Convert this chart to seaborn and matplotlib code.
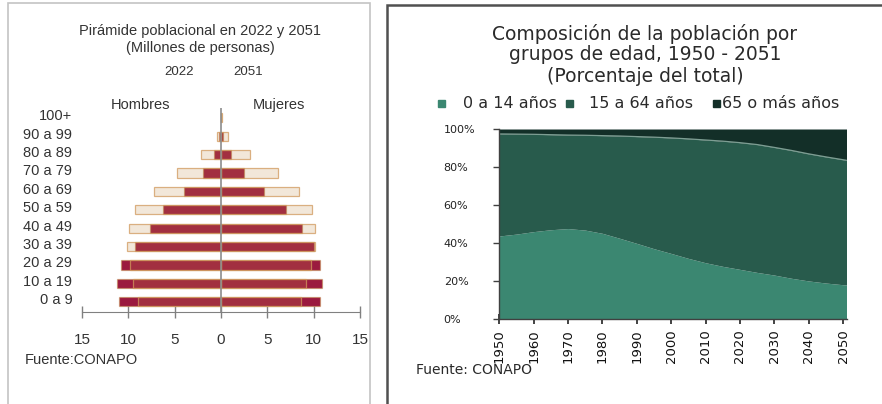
import matplotlib
matplotlib.use("Agg")
import matplotlib.pyplot as plt
import matplotlib.transforms as mtransforms
from matplotlib.patches import Rectangle
import seaborn as sns

# ---------------- datos: pirámide (millones de personas) ----------------
grupos_edad = ["0 a 9", "10 a 19", "20 a 29", "30 a 39", "40 a 49", "50 a 59",
               "60 a 69", "70 a 79", "80 a 89", "90 a 99", "100+"]
hombres_2022 = [10.98, 11.23, 10.76, 9.33, 7.68, 6.21, 4.02, 1.97, 0.72, 0.20, 0.02]
mujeres_2022 = [10.69, 10.91, 10.73, 10.05, 8.79, 7.00, 4.66, 2.48, 1.04, 0.25, 0.03]
hombres_2051 = [8.93, 9.54, 9.87, 10.12, 9.94, 9.29, 7.18, 4.77, 2.19, 0.47, 0.05]
mujeres_2051 = [8.61, 9.22, 9.69, 10.10, 10.12, 9.87, 8.43, 6.17, 3.12, 0.72, 0.10]
ticks_pir = [-15, -10, -5, 0, 5, 10, 15]

# ---------------- datos: composición por edad (% del total) ----------------
anios = [1950, 1955, 1960, 1965, 1970, 1975, 1980, 1985, 1990, 1995, 2000,
         2005, 2010, 2015, 2020, 2025, 2030, 2035, 2040, 2045, 2050, 2051]
pct_0_14 = [43.6, 44.6, 45.9, 46.9, 47.5, 46.7, 45.0, 42.4, 39.7, 36.9, 34.4,
            31.8, 29.5, 27.6, 26.0, 24.4, 23.0, 21.3, 19.9, 18.8, 17.9, 17.8]
pct_15_64 = [53.8, 52.7, 51.3, 50.1, 49.3, 50.0, 51.5, 53.9, 56.3, 58.8, 60.9,
             63.0, 64.7, 66.0, 66.8, 67.4, 67.3, 67.4, 67.0, 66.5, 65.9, 65.7]
pct_65 = [2.6, 2.7, 2.8, 3.0, 3.2, 3.3, 3.5, 3.7, 4.0, 4.3, 4.7,
          5.2, 5.8, 6.4, 7.2, 8.2, 9.7, 11.3, 13.1, 14.7, 16.2, 16.5]
serie_nombres = ["0 a 14 años", "15 a 64 años", "65 o más años"]
ticks_anios = list(range(1950, 2051, 10))

# ---------------- estilo ----------------
sns.set_style("white")
plt.rcParams['font.family'] = ['DejaVu Sans']
fuente_izq = ['Liberation Sans', 'DejaVu Sans']

W, H = 882, 404
fig = plt.figure(figsize=(W / 100, H / 100), dpi=100)

rojo = "#9b1a3f"
tostado = (0.75, 0.53, 0.27)
verdes = ["#3b8771", "#285b4c", "#132f28"]

# marcos de los paneles
fig.add_artist(Rectangle((8 / W, -0.05), (370 - 8) / W, 1 - 3 / H + 0.05,
                         transform=fig.transFigure, fill=False,
                         edgecolor="#c4c4c4", lw=1.2))
fig.add_artist(Rectangle((387 / W, -0.05), 0.6, 1 - 4.5 / H + 0.05,
                         transform=fig.transFigure, fill=False,
                         edgecolor="#505050", lw=1.8))

# ---------------- pirámide ----------------
ax1 = fig.add_axes([82 / W, 1 - 311.7 / H, 278 / W, (311.7 - 108) / H])
orden = grupos_edad[::-1]
for vals, signo in [(hombres_2022, -1), (mujeres_2022, 1)]:
    sns.barplot(x=[signo * v for v in vals], y=grupos_edad, order=orden,
                orient="h", color=rojo, width=0.5, errorbar=None, ax=ax1)
n_22 = len(ax1.patches)
for vals, signo in [(hombres_2051, -1), (mujeres_2051, 1)]:
    sns.barplot(x=[signo * v for v in vals], y=grupos_edad, order=orden,
                orient="h", color=tostado, width=0.5, errorbar=None, ax=ax1)
for i, p in enumerate(ax1.patches):
    if i < n_22:
        p.set_facecolor(rojo)
        p.set_edgecolor((*tostado, 0.5))
    else:
        p.set_facecolor((*tostado, 0.2))
        p.set_edgecolor((0.82, 0.6, 0.36, 0.75))
    p.set_linewidth(0.9)

ax1.axvline(0, color="#8c8c8c", lw=1.2, zorder=5)
ax1.set_xlim(-15, 15)
ax1.set_ylim(10.54, -0.53)
ax1.set_xticks(ticks_pir)
ax1.set_xticklabels([str(abs(t)) for t in ticks_pir], family=fuente_izq, fontsize=11)
ax1.set_xlabel("")
ax1.set_ylabel("")
for s in ["top", "right", "left"]:
    ax1.spines[s].set_visible(False)
ax1.spines["bottom"].set_color("#808080")
ax1.tick_params(axis="x", bottom=True, direction="inout", length=9, width=1,
                color="#808080", pad=11, labelcolor="#333333")
ax1.tick_params(axis="y", left=False, length=0, pad=7, labelsize=10.5,
                labelcolor="#333333")
desplaza = mtransforms.ScaledTranslation(0, 3 / 100, fig.dpi_scale_trans)
for lbl in ax1.get_yticklabels():
    lbl.set_family(fuente_izq)
    lbl.set_transform(lbl.get_transform() + desplaza)

def ftxt(x, y, s, **kw):
    fig.text(x / W, 1 - y / H, s, **kw)

ftxt(200, 31, "Pirámide poblacional en 2022 y 2051", ha="center", va="center",
     fontsize=10.5, family=fuente_izq, color="#333333")
ftxt(200, 48, "(Millones de personas)", ha="center", va="center",
     fontsize=10.5, family=fuente_izq, color="#333333")
ftxt(179, 72, "2022", ha="center", va="center", fontsize=9.5, family=fuente_izq, color="#333333")
ftxt(248, 72, "2051", ha="center", va="center", fontsize=9.5, family=fuente_izq, color="#333333")
ftxt(140, 105, "Hombres", ha="center", va="center", fontsize=10.5, family=fuente_izq, color="#333333")
ftxt(279, 105, "Mujeres", ha="center", va="center", fontsize=10.5, family=fuente_izq, color="#333333")
ftxt(25, 360, "Fuente:CONAPO", ha="left", va="center", fontsize=10.5, family=fuente_izq, color="#333333")

# ---------------- composición por edad ----------------
ax2 = fig.add_axes([499.3 / W, 1 - 318.7 / H, 347.2 / W, 189.7 / H])
ax2.stackplot(anios, pct_0_14, pct_15_64, pct_65, colors=verdes, lw=0)
frontera = [a + b for a, b in zip(pct_0_14, pct_15_64)]
sns.lineplot(x=anios, y=frontera, color="#7d9e93", lw=0.9, ax=ax2)
ax2.set_xlim(1950, 2051)
ax2.set_ylim(0, 100)
ax2.set_xticks(ticks_anios)
ax2.set_xticklabels([str(a) for a in ticks_anios], rotation=90, fontsize=9.5)
ax2.set_yticks([0, 20, 40, 60, 80, 100])
ax2.set_yticklabels([f"{v}%" for v in [0, 20, 40, 60, 80, 100]], fontsize=8, ha="left")
for s in ["top", "right"]:
    ax2.spines[s].set_visible(False)
for s in ["left", "bottom"]:
    ax2.spines[s].set_color("#404040")
    ax2.spines[s].set_linewidth(1)
ax2.tick_params(axis="x", bottom=True, direction="inout", length=7, width=1.2,
                color="#222222", pad=4, labelcolor="#111111")
ax2.tick_params(axis="y", left=True, direction="out", length=4, width=1,
                color="#404040", pad=36, labelcolor="#222222")

ftxt(645, 34, "Composición de la población por", ha="center", va="center",
     fontsize=13.5, color="#2a2a2a")
ftxt(645, 55, "grupos de edad, 1950 - 2051", ha="center", va="center",
     fontsize=13.5, color="#2a2a2a")
ftxt(645, 77, "(Porcentaje del total)", ha="center", va="center",
     fontsize=13.5, color="#2a2a2a")

# leyenda manual
for xs, xt, col, nom in zip([438, 566, 713], [463, 589, 722], verdes, serie_nombres):
    fig.add_artist(Rectangle((xs / W, 1 - 106.5 / H), 7 / W, 7 / H,
                             transform=fig.transFigure, color=col))
    ftxt(xt, 103, nom, ha="left", va="center", fontsize=11.5, color="#2a2a2a")

ftxt(416, 370, "Fuente: CONAPO", ha="left", va="center", fontsize=10, color="#2a2a2a")

fig.savefig("out.png", dpi=100)
